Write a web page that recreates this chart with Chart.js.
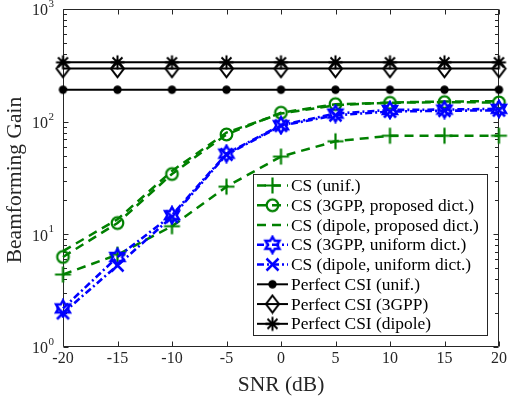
<!DOCTYPE html>
<html><head><meta charset="utf-8">
<script src="https://cdn.jsdelivr.net/npm/chart.js@4.4.1/dist/chart.umd.min.js"></script>
<style>html,body{margin:0;padding:0;background:#fff;}#wrap{width:508px;height:402px;position:relative;}</style>
</head><body><div id="wrap"><canvas id="c" width="508" height="402"></canvas></div>
<script>
// ---- data ----
const snr = [-20, -15, -10, -5, 0, 5, 10, 15, 20];
const csUnif       = [4.4, 6.6, 11.8, 26.5, 49, 67, 75, 75, 75];
const cs3gppProp   = [6.3, 12.6, 34.3, 77, 120, 143, 147, 149, 148];
const csDipoleProp = [7.1, 13.6, 36.5, 80, 118, 140, 148, 151, 152];
const cs3gppUnif   = [2.2, 6.3, 14.8, 52, 93, 118, 127, 128, 130];
const csDipoleUnif = [2.0, 5.3, 14.3, 51, 92, 114, 123, 125, 126];
const perfUnif     = [192, 192, 192, 192, 192, 192, 192, 192, 192];
const perf3gpp     = [296, 296, 296, 296, 296, 296, 296, 296, 296];
const perfDipole   = [336, 336, 336, 336, 336, 336, 336, 336, 336];
const seriesLabels = ['CS (unif.)', 'CS (3GPP, proposed dict.)', 'CS (dipole, proposed dict.)',
  'CS (3GPP, uniform dict.)', 'CS (dipole, uniform dict.)', 'Perfect CSI (unif.)',
  'Perfect CSI (3GPP)', 'Perfect CSI (dipole)'];
const xTicks = [-20, -15, -10, -5, 0, 5, 10, 15, 20];
const yTickExps = [0, 1, 2, 3];
const xTitle = 'SNR (dB)';
const yTitle = 'Beamforming Gain';

// ---- styles ----
const GREEN = '#008000', BLUE = '#0000ff', BLACK = '#000000', AXC = '#262626';
const FONT = '"Liberation Serif", "Times New Roman", serif';

function mk(w, h, fn) {
  const c = document.createElement('canvas'); c.width = w; c.height = h;
  const g = c.getContext('2d'); fn(g, w / 2, h / 2); return c;
}
const mPlus = mk(19, 19, (g, cx, cy) => { g.strokeStyle = GREEN; g.lineWidth = 2.2; g.beginPath();
  g.moveTo(cx - 8, cy); g.lineTo(cx + 8, cy); g.moveTo(cx, cy - 8); g.lineTo(cx, cy + 8); g.stroke(); });
const mCircle = mk(17, 17, (g, cx, cy) => { g.strokeStyle = GREEN; g.lineWidth = 2.2; g.beginPath();
  g.arc(cx, cy, 5.8, 0, Math.PI * 2); g.stroke(); });
const mHex = mk(20, 20, (g, cx, cy) => { g.strokeStyle = BLUE; g.lineWidth = 2.5; g.lineJoin = 'miter'; g.beginPath();
  const R = 8, r = R / Math.sqrt(3);
  for (let k = 0; k < 12; k++) { const a = -Math.PI / 2 + k * Math.PI / 6; const rr = k % 2 ? r : R;
    const px = cx + rr * Math.cos(a), py = cy + rr * Math.sin(a); k ? g.lineTo(px, py) : g.moveTo(px, py); }
  g.closePath(); g.stroke(); });
const mX = mk(17, 17, (g, cx, cy) => { g.strokeStyle = BLUE; g.lineWidth = 2.5; g.beginPath();
  g.moveTo(cx - 6, cy - 6); g.lineTo(cx + 6, cy + 6); g.moveTo(cx + 6, cy - 6); g.lineTo(cx - 6, cy + 6); g.stroke(); });
const mDot = mk(11, 11, (g, cx, cy) => { g.fillStyle = BLACK; g.beginPath(); g.arc(cx, cy, 4.2, 0, Math.PI * 2); g.fill(); });
const mDiamond = mk(17, 21, (g, cx, cy) => { g.strokeStyle = BLACK; g.lineWidth = 2; g.beginPath();
  g.moveTo(cx, cy - 8.5); g.lineTo(cx + 6.5, cy); g.lineTo(cx, cy + 8.5); g.lineTo(cx - 6.5, cy); g.closePath(); g.stroke(); });
const mStar = mk(17, 17, (g, cx, cy) => { g.strokeStyle = BLACK; g.lineWidth = 2; g.beginPath();
  g.moveTo(cx - 7, cy); g.lineTo(cx + 7, cy); g.moveTo(cx, cy - 7); g.lineTo(cx, cy + 7);
  g.moveTo(cx - 5, cy - 5); g.lineTo(cx + 5, cy + 5); g.moveTo(cx + 5, cy - 5); g.lineTo(cx - 5, cy + 5); g.stroke(); });

const DASH = [9, 6], DASHDOT = [7, 3, 2, 3];
const styles = [
  { color: GREEN, dash: DASH, width: 2.5, marker: mPlus },
  { color: GREEN, dash: DASH, width: 2.5, marker: mCircle },
  { color: GREEN, dash: DASH, width: 2.5, marker: null },
  { color: BLUE, dash: DASHDOT, width: 2.6, marker: mHex },
  { color: BLUE, dash: DASHDOT, width: 2.6, marker: mX },
  { color: BLACK, dash: [], width: 2, marker: mDot },
  { color: BLACK, dash: [], width: 2, marker: mDiamond },
  { color: BLACK, dash: [], width: 2, marker: mStar },
];
const seriesValues = [csUnif, cs3gppProp, csDipoleProp, cs3gppUnif, csDipoleUnif, perfUnif, perf3gpp, perfDipole];

const datasets = seriesValues.map((vals, i) => ({
  label: seriesLabels[i],
  data: snr.map((x, j) => ({ x, y: vals[j] })),
  borderColor: styles[i].color,
  backgroundColor: 'transparent',
  borderWidth: styles[i].width,
  borderDash: styles[i].dash,
  pointStyle: styles[i].marker || 'circle',
  pointRadius: styles[i].marker ? 6 : 0,
  pointHoverRadius: styles[i].marker ? 6 : 0,
  tension: 0,
  fill: false,
  clip: false,
  order: -i,
}));

const axesPlugin = {
  id: 'matlabAxes',
  beforeDatasetsDraw(chart) {
    const { ctx, chartArea: a, scales: { x, y } } = chart;
    ctx.save();
    ctx.strokeStyle = AXC; ctx.lineWidth = 1;
    ctx.beginPath();
    const L = Math.round(a.left) + 0.5, R = Math.round(a.right) - 0.5, T = Math.round(a.top) + 0.5, B = Math.round(a.bottom) - 0.5;
    ctx.rect(L, T, R - L, B - T);
    xTicks.forEach(v => { const px = Math.round(x.getPixelForValue(v)) + 0.5;
      ctx.moveTo(px, B); ctx.lineTo(px, B - 5); ctx.moveTo(px, T); ctx.lineTo(px, T + 5); });
    yTickExps.forEach(e => {
      const py = Math.round(y.getPixelForValue(Math.pow(10, e))) + 0.5;
      ctx.moveTo(L, py); ctx.lineTo(L + 5, py); ctx.moveTo(R, py); ctx.lineTo(R - 5, py);
      if (e < yTickExps[yTickExps.length - 1]) {
        for (let m = 2; m <= 9; m++) {
          const pm = Math.round(y.getPixelForValue(m * Math.pow(10, e))) + 0.5;
          ctx.moveTo(L, pm); ctx.lineTo(L + 3.5, pm); ctx.moveTo(R, pm); ctx.lineTo(R - 3.5, pm);
        }
      }
    });
    ctx.stroke();
    ctx.restore();
  },
  afterDraw(chart) {
    const { ctx, chartArea: a, scales: { x, y } } = chart;
    ctx.save();
    ctx.fillStyle = AXC;
    ctx.font = '16px ' + FONT; ctx.textAlign = 'center'; ctx.textBaseline = 'top';
    xTicks.forEach(v => ctx.fillText(String(v), x.getPixelForValue(v), a.bottom + 4));
    yTickExps.forEach(e => {
      const py = y.getPixelForValue(Math.pow(10, e));
      ctx.font = '16px ' + FONT; ctx.textAlign = 'right'; ctx.textBaseline = 'middle';
      const rx = a.left - 15;
      ctx.fillText('10', rx, py + 2);
      ctx.font = '11px ' + FONT; ctx.textAlign = 'left'; ctx.textBaseline = 'middle';
      ctx.fillText(String(e), rx + 0.5, py - 5);
    });
    ctx.font = '21.5px ' + FONT; ctx.textAlign = 'center'; ctx.textBaseline = 'middle';
    ctx.fillText(xTitle, (a.left + a.right) / 2, 385);
    ctx.save(); ctx.translate(15, (a.top + a.bottom) / 2 + 2); ctx.rotate(-Math.PI / 2);
    ctx.fillText(yTitle, 0, 0); ctx.restore();
    // legend
    const bx = 253.5, by = 174.5, bw = 234, bh = 161;
    ctx.fillStyle = '#ffffff'; ctx.fillRect(bx, by, bw, bh);
    ctx.strokeStyle = AXC; ctx.lineWidth = 1; ctx.strokeRect(bx, by, bw, bh);
    const rowH = 19.76, y0 = 185.5;
    seriesLabels.forEach((lab, i) => {
      const ry = y0 + i * rowH, st = styles[i];
      ctx.save(); ctx.strokeStyle = st.color; ctx.lineWidth = st.width; ctx.setLineDash(st.dash);
      ctx.beginPath(); ctx.moveTo(257, ry); ctx.lineTo(288, ry); ctx.stroke(); ctx.restore();
      if (st.marker) ctx.drawImage(st.marker, 272.5 - st.marker.width / 2, ry - st.marker.height / 2);
      ctx.fillStyle = '#000'; ctx.font = '17.4px ' + FONT; ctx.textAlign = 'left'; ctx.textBaseline = 'middle';
      ctx.fillText(lab, 291, ry + 1);
    });
    ctx.restore();
  }
};

new Chart(document.getElementById('c'), {
  type: 'line',
  data: { datasets },
  options: {
    responsive: false, animation: false, devicePixelRatio: 1,
    layout: { padding: { left: 63, right: 9, top: 9, bottom: 55 } },
    plugins: { legend: { display: false }, tooltip: { enabled: false } },
    events: [],
    scales: {
      x: { type: 'linear', min: -20, max: 20, display: false },
      y: { type: 'logarithmic', min: 1, max: 1000, display: false }
    }
  },
  plugins: [axesPlugin]
});
</script></body></html>
